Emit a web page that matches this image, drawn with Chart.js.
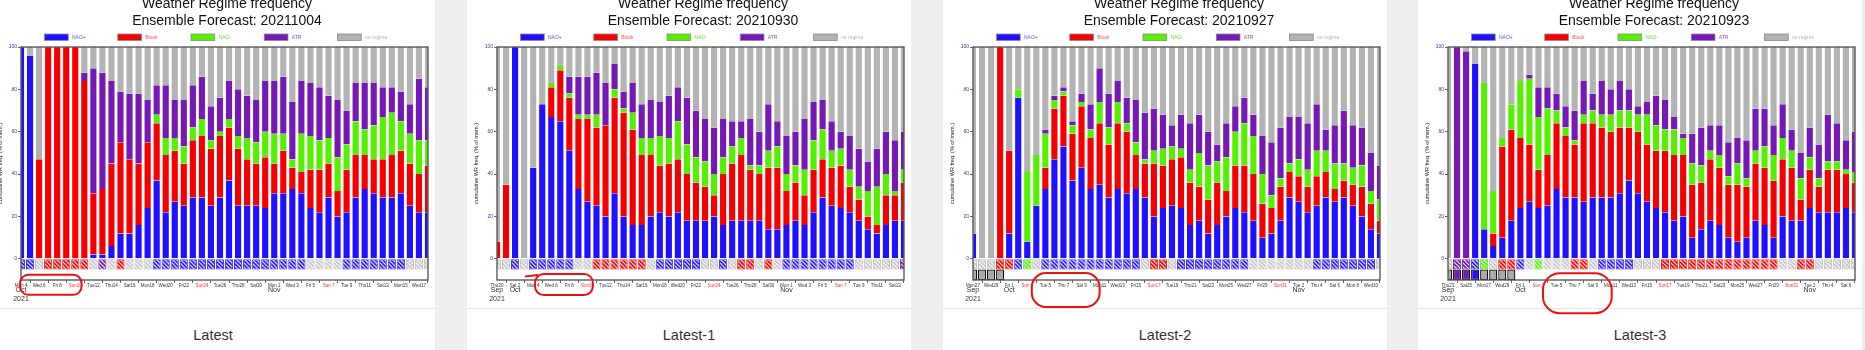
<!DOCTYPE html>
<html><head><meta charset="utf-8">
<script src="https://cdn.jsdelivr.net/npm/chart.js@4.4.1/dist/chart.umd.min.js"></script>
<style>
html,body{margin:0;padding:0;}
body{width:1865px;height:350px;overflow:hidden;background:#efefef;position:relative;font-family:"Liberation Sans",Arial,sans-serif;}
.card{position:absolute;top:0;width:444px;height:350px;background:#fff;overflow:hidden;}
.card canvas{position:absolute;left:0;top:-10px;}
.sep{position:absolute;left:0;right:0;top:308px;height:1px;background:#e4e4e4;}
.cap{position:absolute;left:0;right:0;top:326px;height:18px;line-height:18px;text-align:center;font-size:14.5px;color:#333;}
</style></head><body>
<div class="card" style="left:-9px"><div class="sep"></div><div class="cap">Latest</div><canvas id="c0" width="444" height="330"></canvas></div>
<div class="card" style="left:467px"><div class="sep"></div><div class="cap">Latest-1</div><canvas id="c1" width="444" height="330"></canvas></div>
<div class="card" style="left:943px"><div class="sep"></div><div class="cap">Latest-2</div><canvas id="c2" width="444" height="330"></canvas></div>
<div class="card" style="left:1418px"><div class="sep"></div><div class="cap">Latest-3</div><canvas id="c3" width="444" height="330"></canvas></div>
<script>
// ---------- day labels ----------
const sepDays = ["Thu23","Fri24","Sat25","Sun26","Mon27","Tue28","Wed29","Thu30"];
const octDays = ["Fri 1","Sat 2","Sun 3","Mon 4","Tue 5","Wed 6","Thu 7","Fri 8","Sat 9","Sun10","Mon11","Tue12","Wed13","Thu14","Fri15","Sat16","Sun17","Mon18","Tue19","Wed20","Thu21","Fri22","Sat23","Sun24","Mon25","Tue26","Wed27","Thu28","Fri29","Sat30","Sun31"];
const novDays = ["Mon 1","Tue 2","Wed 3","Thu 4","Fri 5","Sat 6","Sun 7","Mon 8","Tue 9","Wed10","Thu11","Fri12","Sat13","Sun14","Mon15","Tue16","Wed17","Thu18"];
const yearLabel = "2021";
const yTicks = [0,20,40,60,80,100];

// ---------- panel 1 : 20211004 (cumulative tops) ----------
const naoPlusTop1  = [100,96,0,0,0,0,0,0,2,2,6,12,12,16,24,37,22,27,25,29,29,25,29,37,25,25,25,24,31,31,33,31,24,22,29,20,22,29,33,31,29,29,31,25,22,22];
const blockTop1    = [100,96,47,100,100,100,100,84,31,33,45,55,47,45,55,64,49,51,45,56,58,52,58,62,52,47,45,48,45,51,43,41,42,42,45,32,42,49,49,47,47,49,51,45,40,44];
const naoMinusTop1 = [100,96,47,100,100,100,100,84,31,33,45,55,47,45,55,68,57,57,53,62,66,56,60,66,58,57,55,60,59,59,47,59,58,56,57,48,54,65,61,63,67,69,65,59,56,56];
const atrTop1      = [100,96,47,100,100,100,100,88,90,88,84,79,78,78,75,82,82,75,75,82,86,72,76,84,80,77,75,84,84,86,74,84,83,81,77,75,70,83,83,83,81,81,79,73,85,81];
const hatch1 = "BBNRRRRRNPNRNNN"+"BBBBBBBBBBBBBBBBB"+"NNNN"+"BBBBBBB"+"NNN";
const obs1 = "";

// ---------- panel 2 : 20210930 ----------
const naoPlusTop2  = [0,0,100,0,43,73,67,65,51,33,27,25,20,31,20,16,16,20,22,20,22,18,18,18,20,16,18,18,18,18,14,14,16,18,16,22,29,25,24,22,18,14,12,16,18,18];
const blockTop2    = [8,35,100,0,43,73,81,89,76,66,66,62,63,76,69,61,49,49,44,45,47,40,36,34,30,40,45,49,42,40,43,43,32,36,30,42,47,43,44,34,28,20,16,30,30,36];
const naoMinusTop2 = [8,35,100,0,43,73,83,91,78,68,68,68,63,80,71,69,57,57,58,57,65,54,48,46,40,48,53,57,44,44,51,53,40,44,42,56,61,51,52,42,34,32,34,40,32,42];
const atrTop2      = [8,35,100,0,43,73,83,91,86,86,86,88,83,92,79,83,73,75,74,77,81,76,70,66,62,66,65,65,66,60,73,65,58,60,66,74,75,65,60,58,52,46,52,60,56,60];
const hatch2 = "NNBN"+"BBBBB"+"NN"+"RRRRRR"+"N"+"BBBBB"+"NN"+"B"+"N"+"RR"+"N"+"R"+"N"+"BBBBBBBB"+"NNNNN"+"P";
const obs2 = "";

// ---------- panel 3 : 20210927 ----------
const naoPlusTop3  = [12,0,0,0,12,76,8,25,33,47,53,37,43,33,35,29,33,31,33,29,20,24,25,24,16,18,12,16,20,24,22,18,10,12,18,29,27,22,25,29,27,29,25,20,14,12];
const blockTop3    = [12,0,0,100,51,76,8,25,43,71,77,59,72,57,64,54,64,60,49,45,45,44,47,48,36,34,28,36,32,44,44,40,26,24,34,41,39,34,39,41,33,37,35,34,26,18];
const naoMinusTop3 = [12,0,0,100,51,80,41,49,59,75,79,63,74,61,74,62,74,64,55,47,51,52,53,52,42,50,44,46,48,60,64,58,40,30,38,45,47,42,51,51,45,45,43,44,32,28];
const atrTop3      = [12,0,0,100,51,80,41,49,61,77,81,65,78,73,90,78,84,76,75,69,71,68,63,68,64,68,60,54,64,72,76,68,58,55,62,67,67,64,73,61,63,70,63,62,50,44];
const hatch3 = "NNNRRBGN"+"BBBBBBBBBBB"+"N"+"RR"+"N"+"BBBBBBBB"+"NNNNNNN"+"BBBBBBB"+"N";
const obs3 = "NNNN";

// ---------- panel 4 : 20210923 ----------
const naoPlusTop4  = [0,0,0,92,14,6,10,18,24,27,24,25,33,29,29,27,29,29,29,31,37,31,27,24,22,18,20,10,14,18,16,10,8,10,18,16,10,20,18,18,24,22,22,22,24,22];
const blockTop4    = [0,0,0,92,14,12,53,61,57,54,42,49,64,58,54,64,64,62,60,62,62,60,54,51,51,49,49,35,36,47,43,35,35,34,45,43,37,47,43,28,42,34,42,42,40,36];
const naoMinusTop4 = [0,0,0,92,83,32,57,73,84,85,67,71,70,62,56,68,70,68,68,70,70,68,68,63,61,61,57,45,44,51,49,39,45,38,51,53,49,57,51,38,48,38,46,46,42,41];
const atrTop4      = [0,100,98,92,83,32,57,73,84,87,81,81,78,72,70,84,78,84,80,84,80,72,74,77,75,67,59,59,62,63,63,55,57,56,71,71,63,73,61,50,62,54,68,64,56,60];
const hatch4 = "NPPBGNRRBNGNNNRRNBBBBNNN"+"RRRRRRRRRRRRR"+"NN"+"RR"+"NNNNN";
const obs4 = "NPPBNNNN";

// ---------- categories ----------
function mk(month, arr){ return arr.map(d => ({day:d, month:month})); }
const cats1 = mk("Oct", octDays.slice(3)).concat(mk("Nov", novDays.slice(0,18)));
const cats2 = mk("Sep", sepDays.slice(7)).concat(mk("Oct", octDays), mk("Nov", novDays.slice(0,14)));
const cats3 = mk("Sep", sepDays.slice(4)).concat(mk("Oct", octDays), mk("Nov", novDays.slice(0,11)));
const cats4 = mk("Sep", sepDays).concat(mk("Oct", octDays), mk("Nov", novDays.slice(0,7)));

// ---------- styles ----------
const regimes = [
  {key:"B", name:"NAO+", color:"#1f10ff", text:"#5555ff"},
  {key:"R", name:"Block", color:"#f40000", text:"#ff4848"},
  {key:"G", name:"NAO-", color:"#55f000", text:"#6ad830"},
  {key:"P", name:"ATR", color:"#7518b5", text:"#9a4ad0"},
  {key:"N", name:"no regime", color:"#b3b3b3", text:"#b0b0b0"}
];
const COL = {}; regimes.forEach(r => COL[r.key] = r.color);
const HBG = {B:"#2a1cff", R:"#f40000", G:"#55f000", P:"#7518b5", N:"#c8c8c8"};
const HBORDER = {B:"#3a30ff", R:"#f42020", G:"#55e000", P:"#7a28b5", N:"#c0c0c0"};
const tmpCtx = document.createElement("canvas").getContext("2d");
const PAT = {};
Object.keys(HBG).forEach(k => {
  const t = document.createElement("canvas"); t.width = 4; t.height = 4;
  const g = t.getContext("2d");
  g.fillStyle = HBG[k]; g.fillRect(0,0,4,4);
  g.strokeStyle = "rgba(255,255,255,0.92)"; g.lineWidth = 1.1;
  g.beginPath(); g.moveTo(-1,-1); g.lineTo(5,5); g.moveTo(-1,3); g.lineTo(1,5); g.moveTo(3,-1); g.lineTo(5,1); g.stroke();
  PAT[k] = tmpCtx.createPattern(t, "repeat");
});
Chart.defaults.font.family = '"Liberation Sans", Arial, sans-serif';

const panels = [
  {id:"c0", date:"20211004", cats:cats1, tops:[naoPlusTop1, blockTop1, naoMinusTop1, atrTop1], hatch:hatch1, obs:obs1, mark:{x0:-0.1, x1:6.7, y0:-7.5, y1:-17}},
  {id:"c1", date:"20210930", cats:cats2, tops:[naoPlusTop2, blockTop2, naoMinusTop2, atrTop2], hatch:hatch2, obs:obs2, mark:{x0:4.2, x1:10.6, y0:-7.2, y1:-17.1, tail:[3.1,-8.3]}},
  {id:"c2", date:"20210927", cats:cats3, tops:[naoPlusTop3, blockTop3, naoMinusTop3, atrTop3], hatch:hatch3, obs:obs3, mark:{x0:6.5, x1:14.0, y0:-6.7, y1:-22.7}},
  {id:"c3", date:"20210923", cats:cats4, tops:[naoPlusTop4, blockTop4, naoMinusTop4, atrTop4], hatch:hatch4, obs:obs4, mark:{x0:10.5, x1:18.1, y0:-6.8, y1:-25.7}}
];

const deco = {
  id: "deco",
  afterDraw(chart){
    const p = chart.options.plugins.deco;
    const ctx = chart.ctx, a = chart.chartArea, xs = chart.scales.x, ys = chart.scales.y;
    const fam = '"Liberation Sans", Arial, sans-serif';
    ctx.save();
    // frame
    ctx.strokeStyle = "#5a5a5a"; ctx.lineWidth = 1.4;
    ctx.strokeRect(a.left, a.top, a.right - a.left, a.bottom - a.top);
    // title
    const cx = (a.left + a.right) / 2 + 2.5;
    ctx.fillStyle = "#111"; ctx.font = "14px " + fam; ctx.textAlign = "center"; ctx.textBaseline = "alphabetic";
    ctx.fillText("Weather Regime frequency", cx, a.top - 39);
    ctx.fillText("Ensemble Forecast: " + p.date, cx, a.top - 22.5);
    // legend
    const pitch = (a.right - a.left) * 0.18;
    regimes.forEach((r, k) => {
      const x = a.left + 23.5 + k * pitch, y = a.top - 13;
      ctx.fillStyle = r.color; ctx.fillRect(x, y, 23.7, 6.5);
      ctx.strokeStyle = "#8a8a8a"; ctx.lineWidth = 0.8; ctx.strokeRect(x, y, 23.7, 6.5);
      ctx.fillStyle = r.text; ctx.font = "5px " + fam; ctx.textAlign = "left"; ctx.textBaseline = "middle";
      ctx.fillText(r.name, x + 27.5, y + 3.3);
    });
    // month / year labels
    ctx.fillStyle = "#333"; ctx.font = "7px " + fam; ctx.textAlign = "center"; ctx.textBaseline = "middle";
    let last = null;
    p.cats.forEach((c, i) => {
      if (i % 2) return;
      const x = xs.getPixelForValue(i);
      if (c.month !== last) { ctx.fillText(c.month, x, a.bottom + 10); last = c.month; }
      if (i === 0) ctx.fillText(yearLabel, x, a.bottom + 18.7);
    });
    // hand-drawn red mark
    const m = p.mark;
    const x0 = xs.getPixelForValue(m.x0), x1 = xs.getPixelForValue(m.x1);
    const y0 = ys.getPixelForValue(m.y0), y1 = ys.getPixelForValue(m.y1);
    ctx.strokeStyle = "#ee1010"; ctx.lineWidth = 2;
    ctx.beginPath();
    const h = y1 - y0, rr = Math.min(h * 0.42, (x1 - x0) / 2);
    if (ctx.roundRect) ctx.roundRect(x0, y0, x1 - x0, h, rr); else ctx.rect(x0, y0, x1 - x0, h);
    if (m.tail) { ctx.moveTo(xs.getPixelForValue(m.tail[0]), ys.getPixelForValue(m.tail[1])); ctx.lineTo(x0 + 3, y0 + 1); }
    ctx.stroke();
    ctx.restore();
  }
};

panels.forEach(p => {
  const n = p.cats.length;
  const [b, r, g, t] = p.tops;
  const edge = {left:1, right:1, top:0, bottom:0};
  const seg = (label, color, lo, hi) => ({
    label, data: hi.map((v, i) => [lo ? lo[i] : 0, v]),
    backgroundColor: color, borderColor: "rgba(255,255,255,0.35)", borderWidth: edge, borderSkipped: false, clip: 0
  });
  const datasets = [
    seg("NAO+", COL.B, null, b),
    seg("Block", COL.R, b, r),
    seg("NAO-", COL.G, r, g),
    seg("ATR", COL.P, g, t),
    {label:"no regime", data: t.map(v => [v, 100]), backgroundColor: COL.N, borderColor:"rgba(255,255,255,0.35)", borderWidth: edge, borderSkipped:false, clip:0},
    {label:"dominant", data: p.cats.map(() => [-5, 0]),
      backgroundColor: p.hatch.split("").map(k => PAT[k]), borderColor: p.hatch.split("").map(k => HBORDER[k]),
      borderWidth: 1, borderSkipped: false, clip: 0},
    {label:"observed", data: p.cats.map((c, i) => i < p.obs.length ? [-10, -5] : null),
      backgroundColor: p.cats.map((c, i) => i < p.obs.length ? (p.obs[i] === "N" ? "#a9a9a9" : COL[p.obs[i]]) : "#fff"),
      borderColor: "#111", borderWidth: 1.3, borderSkipped: false, clip: 0}
  ];
  new Chart(document.getElementById(p.id), {
    type: "bar",
    data: { labels: p.cats.map(c => c.day), datasets },
    options: {
      responsive: false, animation: false, devicePixelRatio: 1,
      layout: { padding: { top: 57, right: 7, left: 0, bottom: 0 } },
      datasets: { bar: { barPercentage: 0.9, categoryPercentage: 1 } },
      plugins: { legend: {display:false}, title: {display:false}, tooltip: {enabled:false}, deco: { date: p.date, cats: p.cats, mark: p.mark } },
      scales: {
        x: {
          type: "category", stacked: true, offset: false,
          grid: { drawOnChartArea: false, drawTicks: true, tickLength: 3, color: "#666" },
          border: { display: false },
          ticks: {
            autoSkip: false, maxRotation: 0, minRotation: 0, padding: 0,
            font: { size: 4.5 },
            color: c => (c.tick && typeof c.tick.label === "string" && c.tick.label.indexOf("Sun") === 0) ? "#ff2a2a" : "#333",
            callback: (v, i) => (i % 2 === 0 ? p.cats[i].day : null)
          },
          afterFit: s => { s.height = 40; s.paddingLeft = 0; s.paddingRight = 0; }
        },
        y: {
          min: -10, max: 100, stacked: false,
          afterBuildTicks: s => { s.ticks = yTicks.map(v => ({ value: v })); },
          grid: { drawOnChartArea: false, drawTicks: true, tickLength: 3, color: "#666" },
          border: { display: false },
          ticks: { font: { size: 5 }, color: "#3b3b8f", padding: 1 },
          title: { display: true, text: "cumulative WR freq. (% of mem.)", font: { size: 5.5 }, color: "#222", padding: { top: 6, bottom: 0 } },
          afterFit: s => { s.width = 30; s.paddingTop = 0; s.paddingBottom = 0; }
        }
      }
    },
    plugins: [deco]
  });
});
</script>
</body></html>
